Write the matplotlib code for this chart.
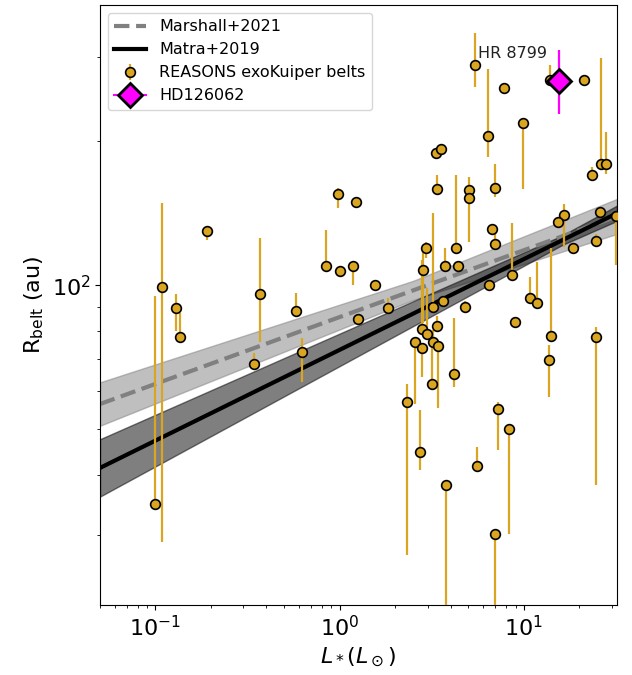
import numpy as np
import matplotlib
matplotlib.use('Agg')
import matplotlib.pyplot as plt

# REASONS exoKuiper belts: luminosity (L_sun), belt radius (au), lower / upper error (au)
L_star = np.array([0.108, 0.099, 0.129, 0.136, 0.190, 0.368, 0.344, 0.582, 0.625, 0.838,
                   1.00, 1.188, 0.978, 1.221, 1.548, 1.820, 1.255, 3.313, 3.557, 3.355,
                   4.290, 5.015, 5.015, 5.459, 6.365, 7.84, 9.91, 13.80, 21.28, 26.24,
                   27.76, 23.46, 6.99, 6.725, 7.006, 6.46, 8.61, 10.75, 11.73, 8.905,
                   14.06, 13.66, 16.41, 15.29, 18.55, 24.47, 25.88, 31.52, 24.72, 2.925,
                   2.835, 3.745, 4.372, 3.653, 4.759, 3.220, 2.793, 2.980, 3.368, 2.572,
                   2.807, 3.224, 3.398, 3.181, 4.19, 2.316, 2.732, 3.754, 5.541, 7.211,
                   8.272, 7.006])
R_belt = np.array([98.9, 34.9, 89.7, 78.0, 129.9, 95.7, 68.3, 88.4, 72.4, 109.5,
                   107.1, 109.5, 155.0, 149.4, 100.0, 89.7, 85.1, 189.1, 193.2, 159.2,
                   119.9, 158.6, 152.6, 288.9, 205.0, 259.3, 218.8, 269.3, 269.3, 179.1,
                   179.1, 170.1, 159.4, 131.4, 121.8, 99.9, 104.9, 93.8, 91.8, 83.7,
                   78.2, 69.8, 140.3, 135.6, 119.9, 123.8, 142.3, 139.5, 77.8, 119.9,
                   107.7, 109.5, 109.5, 92.7, 89.8, 89.8, 81.0, 79.0, 82.1, 76.0,
                   74.0, 76.1, 74.6, 62.0, 65.1, 56.9, 44.7, 38.1, 41.9, 55.1,
                   50.0, 30.1])
err_lo = np.array([69.9, 0, 9.5, 0, 5.7, 19.6, 0, 0, 9.6, 0,
                   0, 9.3, 9.7, 4.6, 0, 0, 0, 0, 0, 0,
                   0, 0, 29.7, 28.5, 19.5, 0, 59.7, 0, 0, 0,
                   7.8, 0, 6.6, 3.6, 0, 0, 0, 0, 0, 0,
                   0, 11.6, 20.0, 0, 0, 0, 0, 29.4, 39.6, 6.0,
                   24.5, 0, 0, 0, 0, 0, 0, 0, 0, 19.6,
                   9.7, 0, 19.4, 0, 3.8, 29.7, 3.7, 23.1, 0, 9.9,
                   19.8, 15.1])
err_hi = np.array([49.8, 59.8, 6.1, 9.3, 0, 30.1, 3.8, 7.9, 5.3, 20.7,
                   0, 0, 5.0, 0, 0, 4.1, 0, 0, 0, 11.1,
                   50.3, 0, 15.7, 49.0, 79.0, 0, 0, 20.3, 0, 119.4,
                   30.2, 6.7, 20.3, 0, 7.3, 0, 30.1, 10.1, 20.1, 0,
                   41.3, 5.1, 7.6, 0, 0, 4.0, 0, 0, 3.8, 3.4,
                   10.7, 10.4, 0, 0, 2.9, 51.9, 31.8, 19.6, 4.0, 0,
                   0, 4.4, 0, 12.9, 20.1, 5.3, 10.1, 0, 4.0, 1.9,
                   0, 0])

# HD126062
L_hd = [15.44]
R_hd = [268.0]
err_hd = [[40.1], [42.2]]

# Relations R = A * (L/L0)^beta, band from spread in A (dex) and beta
matra_A, matra_beta, matra_dA, matra_dbeta, matra_L0 = 124.0, 0.19, 0.010, 0.020, 16.0
marsh_A, marsh_beta, marsh_dA, marsh_dbeta, marsh_L0 = 97.5, 0.14, 0.020, 0.015, 2.5

Lgrid = np.logspace(np.log10(0.05), np.log10(32), 200)


def relation(A, beta, dA, dbeta, L0):
    x = np.log10(Lgrid / L0)
    mid = np.log10(A) + beta * x
    half = dA + dbeta * np.abs(x)
    return 10**mid, 10**(mid - half), 10**(mid + half)


fig = plt.figure(figsize=(6.32, 6.75), dpi=100)
ax = fig.add_axes([100/632, 70/675, 517/632, 600/675])

m_mid, m_lo, m_hi = relation(marsh_A, marsh_beta, marsh_dA, marsh_dbeta, marsh_L0)
t_mid, t_lo, t_hi = relation(matra_A, matra_beta, matra_dA, matra_dbeta, matra_L0)

ax.fill_between(Lgrid, m_lo, m_hi, color='gray', alpha=0.5, zorder=1)
ax.fill_between(Lgrid, t_lo, t_hi, color='k', alpha=0.5, zorder=1)
ax.plot(Lgrid, m_mid, '--', color='gray', lw=3, label='Marshall+2021', zorder=2)
ax.plot(Lgrid, t_mid, '-', color='k', lw=3, label='Matra+2019', zorder=2)

ax.errorbar(L_star, R_belt, yerr=[err_lo, err_hi], fmt='o', color='goldenrod',
            mfc='goldenrod', mec='k', ms=7, mew=1.2, elinewidth=1.6, capsize=0,
            label='REASONS exoKuiper belts', zorder=3)
ax.errorbar(L_hd, R_hd, yerr=err_hd, fmt='D-', color='magenta', mfc='magenta',
            mec='k', ms=12, mew=2, elinewidth=1.6, capsize=0, label='HD126062', zorder=4)

ax.text(5.6, 305, 'HR 8799', fontsize=11.5, va='center', color='#222222')

ax.set_xscale('log')
ax.set_yscale('log')
ax.set_xlim(0.05, 32)
ax.set_ylim(21.4, 386)
ax.tick_params(labelsize=16)
ax.set_xlabel(r'$L_*(L_\odot)$', fontsize=16)
ax.set_ylabel(r'R$_{\rm belt}$ (au)', fontsize=16)
ax.legend(loc='upper left', fontsize=11.5)

plt.savefig('out.png', dpi=100)
